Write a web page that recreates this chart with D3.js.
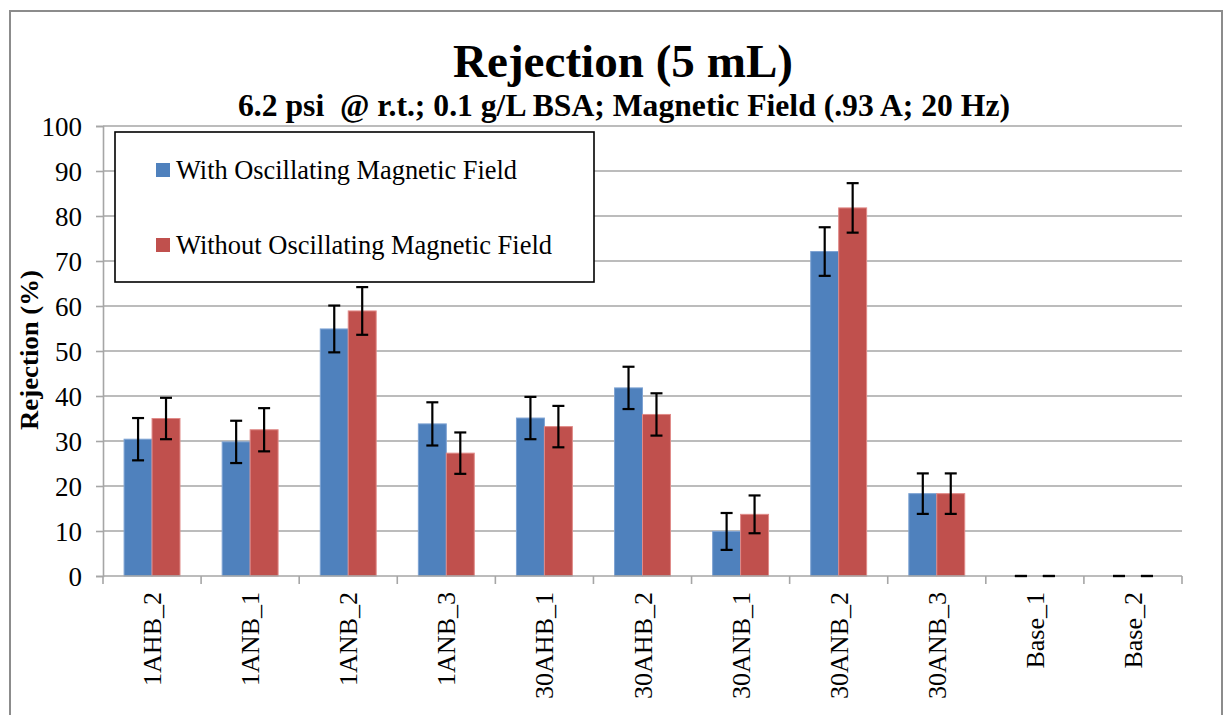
<!DOCTYPE html>
<html><head><meta charset="utf-8">
<script src="https://cdn.jsdelivr.net/npm/d3@7"></script>
<style>body{margin:0;background:#fff}svg{display:block}text{font-family:"Liberation Serif","Times New Roman",serif}</style>
</head><body>
<svg id="c" width="1227" height="715"></svg>
<script>
const categories = ["1AHB_2","1ANB_1","1ANB_2","1ANB_3","30AHB_1","30AHB_2","30ANB_1","30ANB_2","30ANB_3","Base_1","Base_2"];
const seriesNames = ["With Oscillating Magnetic Field","Without Oscillating Magnetic Field"];
const withField = [30.4, 29.8, 54.9, 33.8, 35.1, 41.8, 9.9, 72.1, 18.3, 0, 0];
const withoutField = [35.0, 32.5, 58.9, 27.3, 33.2, 35.9, 13.7, 81.8, 18.3, 0, 0];
const withErr = [4.7, 4.7, 5.2, 4.8, 4.7, 4.7, 4.1, 5.4, 4.5, 0, 0];
const withoutErr = [4.6, 4.8, 5.3, 4.6, 4.6, 4.7, 4.2, 5.5, 4.5, 0, 0];
const yTicks = [0,10,20,30,40,50,60,70,80,90,100];
const colors = ["#4F81BD","#C0504D"];
const edge = ["#7EA3D3","#E08A88"];
const FF = "Liberation Serif";

const svg = d3.select("#c");
const L = 103, R = 1182, T = 126, B = 576;

svg.append("rect").attr("x",10).attr("y",11).attr("width",1212).attr("height",720)
  .attr("fill","#fff").attr("stroke","#8c8c8c").attr("stroke-width",2);

const x0 = d3.scaleBand().domain(categories).range([L,R]).paddingInner(0.43).paddingOuter(0.215);
const x1 = d3.scaleBand().domain([0,1]).range([0,x0.bandwidth()]);
const y = d3.scaleLinear().domain([0,100]).range([B,T]);

// gridlines
svg.append("g").selectAll("line").data(yTicks.filter(d=>d>0)).join("line")
  .attr("x1",L).attr("x2",R).attr("y1",d=>y(d)).attr("y2",d=>y(d))
  .attr("stroke","#a6a6a6").attr("stroke-width",1.6);

// y axis
const ya = svg.append("g").attr("transform",`translate(${L},0)`)
  .call(d3.axisLeft(y).tickValues(yTicks).tickSize(7).tickPadding(14));
ya.attr("font-family",FF);
ya.select(".domain").attr("stroke","#a6a6a6").attr("stroke-width",1.6);
ya.selectAll(".tick line").attr("stroke","#a6a6a6").attr("stroke-width",1.6);
ya.selectAll(".tick text").attr("font-size",27).attr("fill","#000")
  .attr("font-family",FF).attr("dy","0.34em");

// bars
const data = categories.map((c,i)=>({c, v:[withField[i],withoutField[i]], e:[withErr[i],withoutErr[i]]}));
const g = svg.append("g");
data.forEach(d=>{
  [0,1].forEach(s=>{
    const bx = x0(d.c)+x1(s), bw = x1.bandwidth();
    if (d.v[s] > 0) {
      g.append("rect").attr("x",bx).attr("y",y(d.v[s])).attr("width",bw).attr("height",y(0)-y(d.v[s]))
        .attr("fill",colors[s]).attr("stroke",edge[s]).attr("stroke-width",1);
    }
  });
});

// x axis
svg.append("line").attr("x1",L).attr("x2",R).attr("y1",B).attr("y2",B)
  .attr("stroke","#a6a6a6").attr("stroke-width",1.6);
const bounds = categories.map(c=>x0(c)-x0.step()*0.215).concat([R]);
svg.append("g").selectAll("line").data(bounds).join("line")
  .attr("x1",d=>d).attr("x2",d=>d).attr("y1",B).attr("y2",B+8)
  .attr("stroke","#a6a6a6").attr("stroke-width",1.6);
svg.append("g").selectAll("text").data(categories).join("text")
  .attr("transform",d=>`translate(${x0(d)+x0.bandwidth()/2+9},${B+16}) rotate(-90)`)
  .attr("text-anchor","end").attr("font-family",FF).attr("font-size",26).text(d=>d);

// error bars
const eb = svg.append("g").attr("stroke","#000").attr("stroke-width",2.2).attr("fill","none");
data.forEach(d=>{
  [0,1].forEach(s=>{
    const cx = x0(d.c)+x1(s)+x1.bandwidth()/2;
    const hi = y(d.v[s]+d.e[s]), lo = y(Math.max(0,d.v[s]-d.e[s]));
    if (d.e[s] > 0) eb.append("line").attr("x1",cx).attr("x2",cx).attr("y1",hi).attr("y2",lo);
    eb.append("line").attr("x1",cx-6).attr("x2",cx+6).attr("y1",hi).attr("y2",hi);
    eb.append("line").attr("x1",cx-6).attr("x2",cx+6).attr("y1",lo).attr("y2",lo);
  });
});

// titles
svg.append("text").attr("x",623).attr("y",77).attr("text-anchor","middle")
  .attr("font-family",FF).attr("font-size",47).attr("font-weight","bold")
  .attr("textLength",340).attr("lengthAdjust","spacingAndGlyphs").text("Rejection (5 mL)");
svg.append("text").attr("x",624).attr("y",116).attr("text-anchor","middle")
  .attr("font-family",FF).attr("font-size",31).attr("font-weight","bold")
  .attr("textLength",772).attr("lengthAdjust","spacingAndGlyphs")
  .attr("xml:space","preserve").style("white-space","pre")
  .text("6.2 psi  @ r.t.; 0.1 g/L BSA; Magnetic Field (.93 A; 20 Hz)");

// y label
svg.append("text").attr("transform","translate(38,350) rotate(-90)").attr("text-anchor","middle")
  .attr("font-family",FF).attr("font-size",26).attr("font-weight","bold")
  .attr("textLength",160).attr("lengthAdjust","spacingAndGlyphs").text("Rejection (%)");

// legend
svg.append("rect").attr("x",115).attr("y",132).attr("width",479).attr("height",150)
  .attr("fill","#fff").attr("stroke","#000").attr("stroke-width",1.6);
const lg = svg.append("g");
[0,1].forEach(s=>{
  const yy = [163,238][s];
  lg.append("rect").attr("x",156).attr("y",yy).attr("width",14).attr("height",14).attr("fill",colors[s]);
  lg.append("text").attr("x",176).attr("y",yy+16).attr("font-family",FF).attr("font-size",27)
    .attr("textLength", s===0 ? 341 : 376).attr("lengthAdjust","spacingAndGlyphs").text(seriesNames[s]);
});
</script>
</body></html>
